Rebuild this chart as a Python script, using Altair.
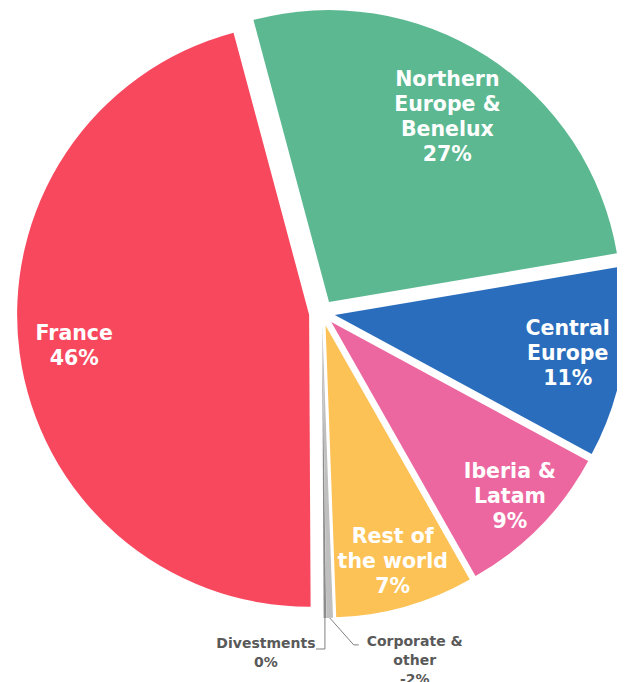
import math
import altair as alt
import pandas as pd

# ---- data (clockwise from the top) ----
segments = ["Northern Europe & Benelux", "Central Europe", "Iberia & Latam",
            "Rest of the world", "Corporate & other", "Divestments", "France"]
label_lines = ["Northern\nEurope &\nBenelux", "Central\nEurope", "Iberia &\nLatam",
               "Rest of\nthe world", "Corporate &\nother", "Divestments", "France"]
display_pct = [27, 11, 9, 7, -2, 0, 46]
slice_share = [26.5, 10.56, 8.89, 7.64, 0.36, 0.14, 45.92]
inside = [True, True, True, True, False, False, True]
colors = ["#5BB891", "#2A6DBC", "#EC67A0", "#FDC256", "#BFBFBF", "#8C8C8C", "#F8485E"]

# ---- layout (not data) ----
W, H = 609, 674
CX, CY = 314, 305
R = 292
EXPLODE = 13
START = -15 * math.pi / 180
IN_LH = 25
OUT_LH = 19
label_radius = [219, 236, 250, 246, 0, 0, 237]
# outside label layout: text-block centre offset from slice tip, elbow offset, tail
text_dx = [0, 0, 0, 0, 85, -59, 0]
text_dy = [0, 0, 0, 0, 43, 36, 0]
elbow_dx = [0, 0, 0, 0, 24, 0, 0]
elbow_dy = [0, 0, 0, 0, 27, 31, 0]
tail_dx = [0, 0, 0, 0, 5, -9, 0]

rows = []
for i in range(len(segments)):
    txt = f"{label_lines[i]}\n{display_pct[i]}%"
    rows.append(dict(idx=i, segment=segments[i], share=slice_share[i],
                     inner_text=txt if inside[i] else "",
                     outer_text=txt if not inside[i] else "",
                     nlines=txt.count("\n") + 1,
                     outside=0 if inside[i] else 1,
                     lr=label_radius[i], tdx=text_dx[i], tdy=text_dy[i],
                     edx=elbow_dx[i], edy=elbow_dy[i], hdx=tail_dx[i]))
df = pd.DataFrame(rows)

theta_scale = alt.Scale(range=[START, START + 2 * math.pi])

base = alt.Chart(df).transform_window(
    cum="sum(share)", sort=[alt.SortField("idx")]
).transform_joinaggregate(
    total="sum(share)"
).transform_calculate(
    mid=f"{START} + 2*PI*(datum.cum - datum.share/2)/datum.total"
).transform_calculate(
    cx=f"{CX} + {EXPLODE}*sin(datum.mid)",
    cy=f"{CY} - {EXPLODE}*cos(datum.mid)",
).transform_calculate(
    ox=f"datum.cx + {R}*sin(datum.mid)",
    oy=f"datum.cy - {R}*cos(datum.mid)",
    lx="datum.cx + datum.lr*sin(datum.mid)",
    ly=f"datum.cy - datum.lr*cos(datum.mid) - (datum.nlines-1)*{IN_LH}/2",
).transform_calculate(
    ex="datum.ox + datum.edx",
    ey="datum.oy + datum.edy",
    tx="datum.ox + datum.tdx",
    ty=f"datum.oy + datum.tdy - (datum.nlines-1)*{OUT_LH}/2",
).transform_calculate(
    hx="datum.ex + datum.hdx",
)

arcs = base.mark_arc(outerRadius=R).encode(
    theta=alt.Theta("share:Q", stack=True, scale=theta_scale),
    order=alt.Order("idx:Q"),
    color=alt.Color("segment:N", scale=alt.Scale(domain=segments, range=colors), legend=None),
    x=alt.X("cx:Q", scale=None, axis=None),
    y=alt.Y("cy:Q", scale=None, axis=None),
)

inner_labels = base.transform_filter("datum.outside == 0").mark_text(
    font="DejaVu Sans", fontWeight="bold", fontSize=20.5, color="white",
    align="center", baseline="middle", lineBreak="\n", lineHeight=IN_LH,
).encode(
    x=alt.X("lx:Q", scale=None), y=alt.Y("ly:Q", scale=None),
    text="inner_text:N",
)

leader1 = base.transform_filter("datum.outside == 1").mark_rule(
    color="#7F7F7F", strokeWidth=1
).encode(
    x=alt.X("ox:Q", scale=None), y=alt.Y("oy:Q", scale=None),
    x2="ex:Q", y2="ey:Q",
)
leader2 = base.transform_filter("datum.outside == 1").mark_rule(
    color="#7F7F7F", strokeWidth=1
).encode(
    x=alt.X("ex:Q", scale=None), y=alt.Y("ey:Q", scale=None),
    x2="hx:Q", y2="ey:Q",
)

outer_labels = base.transform_filter("datum.outside == 1").mark_text(
    font="DejaVu Sans", fontWeight="bold", fontSize=14, color="#595959",
    align="center", baseline="middle", lineBreak="\n", lineHeight=OUT_LH,
).encode(
    x=alt.X("tx:Q", scale=None), y=alt.Y("ty:Q", scale=None),
    text="outer_text:N",
)

chart = alt.layer(arcs, inner_labels, leader1, leader2, outer_labels).properties(
    width=W, height=H, padding=0, autosize=alt.AutoSizeParams(type="none"),
    background="white",
).configure_view(stroke=None)

chart.save("out.html", embed_options={"renderer": "svg", "actions": False})
